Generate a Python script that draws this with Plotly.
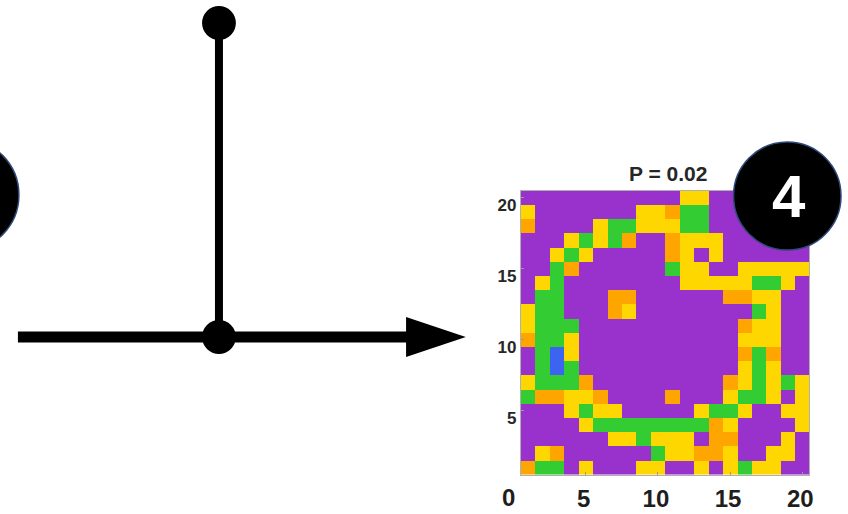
import plotly.graph_objects as go

W, H = 848, 514

# ---- data: 20x20 category grid, rows listed from top (y=20) to bottom (y=1)
# P = purple, B = blue, G = green, Y = yellow, O = orange
grid_rows = [
    "PPPPPPPPPPPYYPPPPPPP",
    "YPPPPPPPYYOGGPPPPPPP",
    "OPPPPYGGYYYGGPPPPPPP",
    "PPPYGYGOPPOYYYPPPPPP",
    "PPYGYPPPPPOYPYPPPPPP",
    "PPGOPPPPPPGYYPPYYYYY",
    "PYGPPPPPPPPYYYYYGGYP",
    "PGGPPPOOPPPPPPOOYYPP",
    "YGGPPPOYPPPPPPPPGYPP",
    "YGGGPPPPPPPPPPPOYYPP",
    "OGGYPPPPPPPPPPPYYYPP",
    "PGBYPPPPPPPPPPPOGOPP",
    "PGBGPPPPPPPPPPPYGYPP",
    "YGGGOPPPPPPPPPOYGYGY",
    "GOOYYOPPPPOPPPYGGYPY",
    "PPPYGYYPPPPPYGGYPPYY",
    "PPPPYGGGGGGGGOYPPPPY",
    "PPPPPPYYGYYYPOOPPPYP",
    "PYOPPPPPPGYYOOYPPYYP",
    "OGGPYPPPYYPPYPYGYYPP",
]
category_codes = {"P": 0, "B": 1, "G": 2, "Y": 3, "O": 4}
category_colors = ["#9932CC", "#3C64F0", "#33CC33", "#FFD700", "#FFA500"]
x_cells = list(range(1, 21))
y_cells = list(range(1, 21))
x_tick_vals = [5, 10, 15, 20]
y_tick_vals = [5, 10, 15, 20]
x_origin_label = "0"
title_text = "P = 0.02"
badge_text = "4"

z = [[category_codes[ch] for ch in row] for row in reversed(grid_rows)]

n = len(category_colors)
cscale = []
for i, c in enumerate(category_colors):
    cscale.append([i / n, c])
    cscale.append([(i + 1) / n, c])

FONT = "Liberation Sans, Arial, sans-serif"


def px(x):
    return x / W


def py(y):
    return 1 - y / H


fig = go.Figure()
fig.add_trace(go.Heatmap(
    x=x_cells, y=y_cells, z=z,
    colorscale=cscale, zmin=-0.5, zmax=n - 0.5,
    showscale=False, hoverinfo="skip",
))

x_left, x_right = 523.3, 813.3
y_top, y_bot = 190.7, 474.7

fig.update_layout(
    width=W, height=H,
    margin=dict(l=0, r=0, t=0, b=0),
    paper_bgcolor="white", plot_bgcolor="white",
    showlegend=False,
    xaxis=dict(
        domain=[px(x_left), px(x_right)], range=[0.5, 20.5],
        tickvals=x_tick_vals, ticks="inside", ticklen=3, tickcolor="#999",
        showline=True, mirror=True, linecolor="#b0b0b0", linewidth=1,
        showgrid=False, zeroline=False, fixedrange=True,
        tickfont=dict(family=FONT, size=24, color="#1e1e1e", weight="bold"),
        ticklabelshift=-2, ticklabelstandoff=2,
    ),
    yaxis=dict(
        domain=[py(y_bot), py(y_top)], range=[0.5, 20.5],
        tickvals=y_tick_vals, ticks="inside", ticklen=3, tickcolor="#999",
        showline=True, mirror=True, linecolor="#b0b0b0", linewidth=1,
        showgrid=False, zeroline=False, fixedrange=True,
        tickfont=dict(family=FONT, size=17, color="#262626", weight="bold"),
        ticklabelshift=7,
    ),
)


def circle(cx, cy, r, fill, line_color=None, line_width=0):
    return dict(type="circle", xref="paper", yref="paper",
                x0=px(cx - r), x1=px(cx + r), y0=py(cy + r), y1=py(cy - r),
                fillcolor=fill, line=dict(color=line_color or fill, width=line_width),
                layer="above")


shapes = [
    dict(type="line", xref="paper", yref="paper",
         x0=px(220), x1=px(220), y0=py(23), y1=py(337),
         line=dict(color="black", width=8)),
    dict(type="line", xref="paper", yref="paper",
         x0=px(18), x1=px(412), y0=py(337), y1=py(337),
         line=dict(color="black", width=11)),
    dict(type="path", xref="paper", yref="paper",
         path=f"M {px(408)},{py(317)} L {px(468)},{py(337)} L {px(408)},{py(357)} Z",
         fillcolor="black", line=dict(color="black", width=0)),
    circle(220, 23, 17, "black"),
    circle(220, 337, 17, "black"),
    circle(-37, 195, 56, "black", "#2E4A7A", 1.5),
    circle(791, 196, 54, "black", "#2E4A7A", 1.5),
]
fig.update_layout(shapes=shapes)

fig.add_annotation(x=px(671), y=py(173), xref="paper", yref="paper",
                   xanchor="center", yanchor="middle",
                   text=title_text, showarrow=False,
                   font=dict(family=FONT, size=21, color="#262626", weight="bold"))
fig.add_annotation(x=px(793), y=py(197), xref="paper", yref="paper",
                   xanchor="center", yanchor="middle",
                   text=badge_text, showarrow=False,
                   font=dict(family=FONT, size=60, color="white", weight="bold"))
fig.add_annotation(x=px(511), y=py(497), xref="paper", yref="paper",
                   xanchor="center", yanchor="middle",
                   text=x_origin_label, showarrow=False,
                   font=dict(family=FONT, size=24, color="#1e1e1e", weight="bold"))

fig.write_html("out.html", config={"displayModeBar": False},
               post_script="document.body.style.margin='0';")
